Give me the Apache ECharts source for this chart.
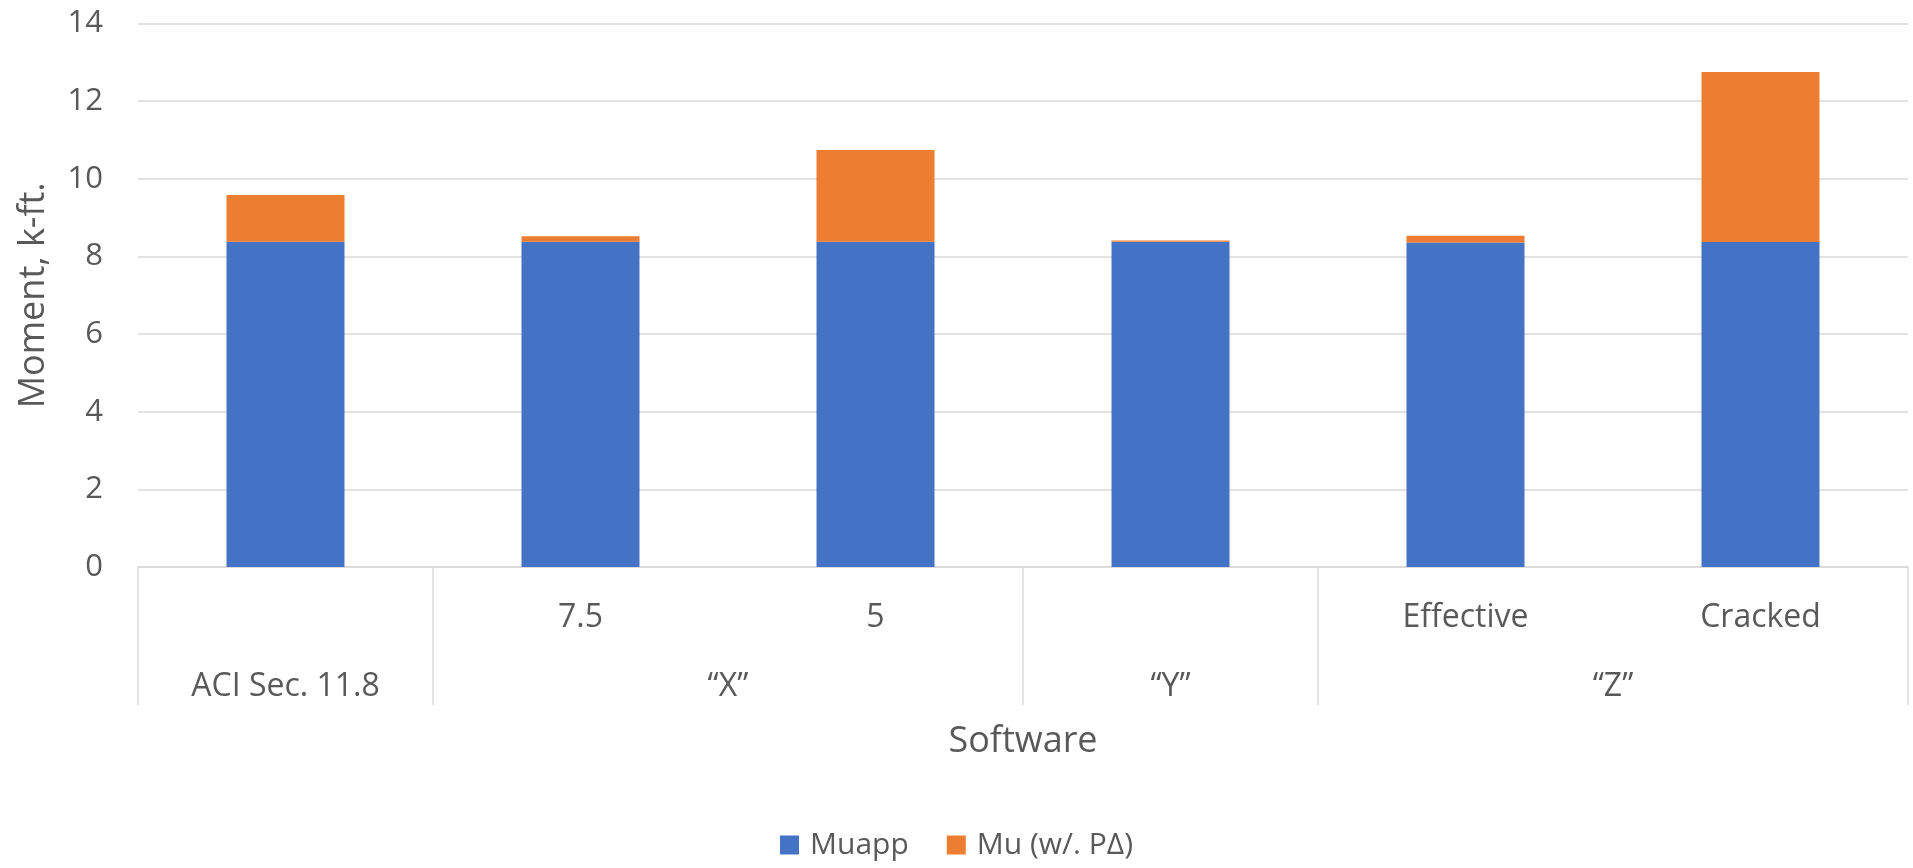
<!DOCTYPE html>
<html>
<head>
<meta charset="utf-8">
<title>Moment by Software</title>
<script src="https://cdn.jsdelivr.net/npm/echarts@6/dist/echarts.min.js"></script>
<style>
  html, body { margin: 0; padding: 0; background: #ffffff; }
  #chart { width: 1913px; height: 868px; }
</style>
</head>
<body>
<div id="chart"></div>
<script>
// Inner category level (one entry per bar)
const subLabels = ['', '7.5', '5', '', 'Effective', 'Cracked'];
// Outer category level: group names and how many bars each spans
const groupNames = ['ACI Sec. 11.8', '\u201CX\u201D', '\u201CY\u201D', '\u201CZ\u201D'];
const groupSpans = [1, 2, 1, 2];
// Series values (k-ft.)
const muapp = [8.38, 8.38, 8.38, 8.38, 8.36, 8.37];
const muPDelta = [1.20, 0.14, 2.36, 0.03, 0.17, 4.38];
// Value-axis ticks
const yMin = 0, yMax = 14, yStep = 2;

const textColor = '#595959';
const lineColor = '#d9d9d9';
const fontFamily = '"Open Sans", "Liberation Sans", sans-serif';
const labelSize = 32;
const tickSize = 31;
const titleSize = 36;
const legendSize = 30;

// Group boundaries and centres in bar-index units
const groupEdges = [0];
groupSpans.forEach(s => groupEdges.push(groupEdges[groupEdges.length - 1] + s));
const groupCenters = groupSpans.map((s, i) => groupEdges[i] + s / 2);
const groupByCenter = {};
groupCenters.forEach((c, i) => { groupByCenter[c] = groupNames[i]; });

const chart = echarts.init(document.getElementById('chart'), null, { renderer: 'canvas' });

chart.setOption({
  backgroundColor: '#ffffff',
  animation: false,
  textStyle: { fontFamily: fontFamily },
  grid: { left: 138, right: 5, top: 23.5, bottom: 301, containLabel: false },
  legend: {
    data: ['Muapp', 'Mu (w/. P\u0394)'],
    left: 'center',
    top: 828,
    icon: 'rect',
    itemWidth: 19,
    itemHeight: 19,
    itemGap: 38,
    padding: 0,
    textStyle: {
      fontFamily: fontFamily, fontSize: legendSize, color: textColor,
      lineHeight: 34, padding: [0, 0, 0, 6]
    }
  },
  xAxis: [
    {
      type: 'category',
      data: subLabels,
      axisLine: { show: true, lineStyle: { color: lineColor, width: 1.5 } },
      axisTick: { show: false },
      splitLine: { show: false },
      axisLabel: {
        interval: 0, margin: 35,
        fontFamily: fontFamily, fontSize: labelSize, color: textColor, lineHeight: 32
      }
    },
    {
      type: 'value',
      position: 'bottom',
      min: 0,
      max: subLabels.length,
      axisLine: { show: false },
      splitLine: { show: false },
      axisTick: {
        show: true,
        inside: false,
        length: 138,
        customValues: groupEdges,
        lineStyle: { color: lineColor, width: 1.5 }
      },
      axisLabel: {
        show: true,
        margin: 104,
        customValues: groupCenters,
        formatter: v => groupByCenter[v] || '',
        fontFamily: fontFamily, fontSize: labelSize, color: textColor, lineHeight: 32
      },
      name: 'Software',
      nameLocation: 'middle',
      nameGap: 175,
      nameTextStyle: {
        fontFamily: fontFamily, fontSize: titleSize, color: textColor,
        verticalAlign: 'middle', lineHeight: 36
      }
    }
  ],
  yAxis: {
    type: 'value',
    min: yMin,
    max: yMax,
    interval: yStep,
    axisLine: { show: false },
    axisTick: { show: false },
    splitLine: { show: true, lineStyle: { color: lineColor, width: 1.5 } },
    axisLabel: {
      margin: 35,
      fontFamily: fontFamily, fontSize: tickSize, color: textColor
    },
    name: 'Moment, k-ft.',
    nameLocation: 'middle',
    nameGap: 104,
    nameTextStyle: {
      fontFamily: fontFamily, fontSize: titleSize, color: textColor,
      verticalAlign: 'middle', align: 'center'
    }
  },
  series: [
    {
      name: 'Muapp',
      type: 'bar',
      stack: 'moment',
      xAxisIndex: 0,
      barWidth: '40%',
      itemStyle: { color: '#4472C4' },
      data: muapp
    },
    {
      name: 'Mu (w/. P\u0394)',
      type: 'bar',
      stack: 'moment',
      xAxisIndex: 0,
      barWidth: '40%',
      itemStyle: { color: '#ED7D31' },
      data: muPDelta
    }
  ]
});
</script>
</body>
</html>
